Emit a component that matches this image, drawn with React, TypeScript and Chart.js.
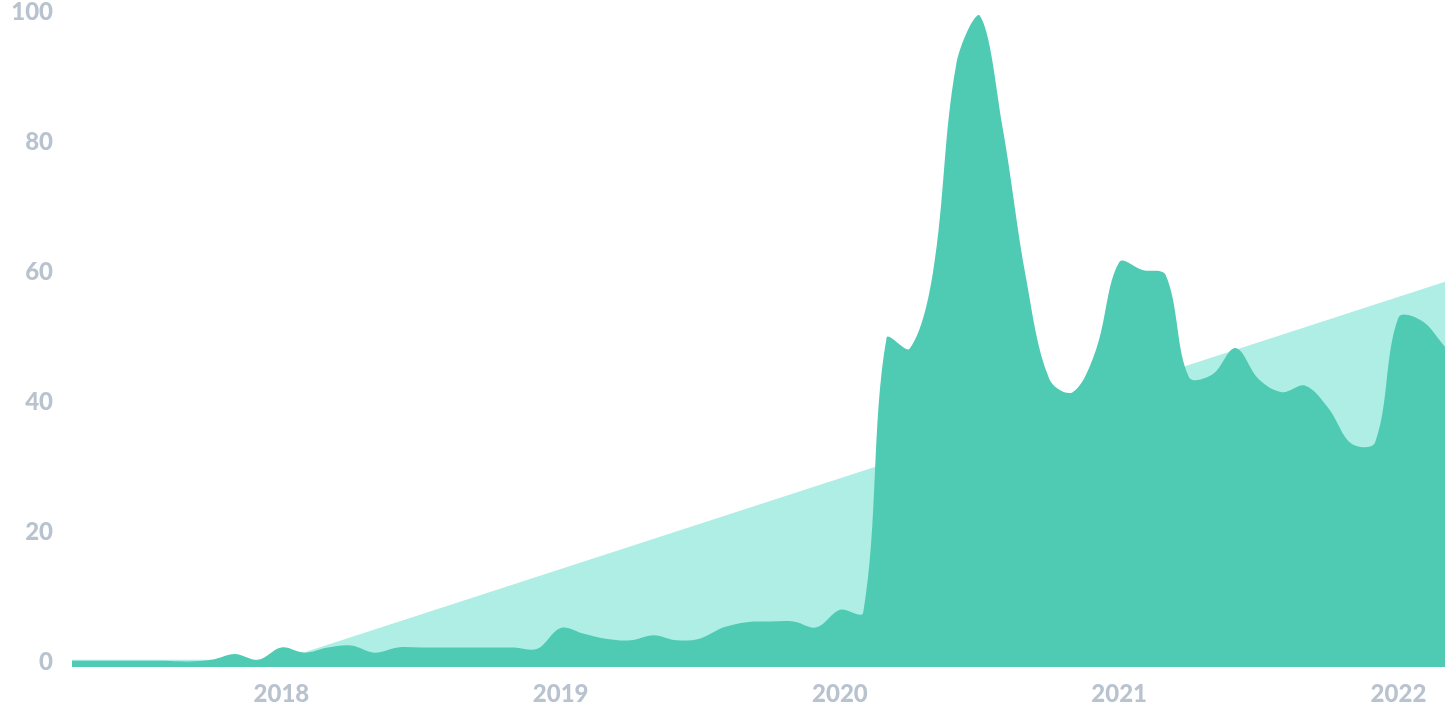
import React, { useEffect, useRef } from 'react';
import { Chart, registerables } from 'chart.js';

Chart.register(...registerables);

const months = [
  '2017-04', '2017-05', '2017-06', '2017-07', '2017-08', '2017-09', '2017-10', '2017-11', '2017-12',
  '2018-01', '2018-02', '2018-03', '2018-04', '2018-05', '2018-06', '2018-07', '2018-08', '2018-09', '2018-10', '2018-11', '2018-12',
  '2019-01', '2019-02', '2019-03', '2019-04', '2019-05', '2019-06', '2019-07', '2019-08', '2019-09', '2019-10', '2019-11', '2019-12',
  '2020-01', '2020-02', '2020-03', '2020-04', '2020-05', '2020-06', '2020-07', '2020-08', '2020-09', '2020-10', '2020-11', '2020-12',
  '2021-01', '2021-02', '2021-03', '2021-04', '2021-05', '2021-06', '2021-07', '2021-08', '2021-09', '2021-10', '2021-11', '2021-12',
  '2022-01', '2022-02', '2022-03',
];

const interestValues = [
  0.15, 0.15, 0.15, 0.15, 0.15, 0.05, 0.3, 1.2, 0.3,
  2.2, 1.4, 2.2, 2.5, 1.4, 2.2, 2.2, 2.2, 2.2, 2.2, 2.2, 2.0,
  5.2, 4.3, 3.5, 3.3, 4.1, 3.3, 3.6, 5.3, 6.1, 6.2, 6.2, 5.3,
  8.0, 7.6, 49.8, 48.2, 60, 92, 99.5, 82, 59, 43.5, 41.5, 48,
  61.5, 60.3, 59.5, 43.8, 44.2, 48.3, 43.5, 41.5, 42.5, 39, 33.5, 33.8,
  53, 52.5, 48.5,
];

const trendMonths = ['2017-04', '2018-01', '2022-03'];
const trendValues = [0.3, 0.3, 58.5];

const yTicks = [0, 20, 40, 60, 80, 100];

const LABEL_COLOR = '#B8C3CF';
const DARK = '#4FCBB4';
const LIGHT = '#AEEEE4';

export default function App() {
  const ref = useRef<HTMLCanvasElement | null>(null);

  useEffect(() => {
    if (!ref.current) return;
    const font = { family: 'Lato', size: 24, weight: '900' as any, lineHeight: 1 };
    const chart = new Chart(ref.current, {
      type: 'line',
      data: {
        labels: months,
        datasets: [
          {
            label: 'Interest',
            data: interestValues,
            borderWidth: 0,
            borderColor: DARK,
            backgroundColor: DARK,
            fill: 'start',
            pointRadius: 0,
            tension: 0.35,
          },
          {
            label: 'Trend',
            data: trendMonths.map((m, i) => ({ x: m, y: trendValues[i] })),
            borderWidth: 0,
            borderColor: LIGHT,
            backgroundColor: LIGHT,
            fill: 'start',
            pointRadius: 0,
            tension: 0,
          },
        ],
      },
      options: {
        animation: false,
        responsive: true,
        maintainAspectRatio: false,
        layout: { padding: { top: 0, right: 5, left: 0, bottom: 0 } },
        plugins: { legend: { display: false }, tooltip: { enabled: false } },
        scales: {
          x: {
            type: 'category',
            offset: false,
            grid: { display: false, drawTicks: false, tickLength: 0 },
            border: { display: false },
            ticks: {
              autoSkip: false,
              maxRotation: 0,
              padding: 15,
              color: LABEL_COLOR,
              font,
              callback: function (value: any) {
                const lab = months[value as number];
                return lab && lab.endsWith('-01') ? lab.slice(0, 4) : null;
              },
            },
            afterFit: (scale: any) => {
              scale.height = 58;
            },
          },
          y: {
            min: -0.8,
            max: 100,
            grid: { display: false, drawTicks: false, tickLength: 0 },
            border: { display: false },
            ticks: { padding: 19, color: LABEL_COLOR, font },
            afterBuildTicks: (scale: any) => {
              scale.ticks = yTicks.map((v) => ({ value: v }));
            },
            afterFit: (scale: any) => {
              scale.width = 72;
              scale.paddingTop = 12;
              scale.paddingBottom = 0;
            },
          },
        },
      },
    });
    return () => chart.destroy();
  }, []);

  return (
    <div style={{ position: 'absolute', left: 0, top: 0, width: 1450, height: 725 }}>
      <canvas ref={ref} />
    </div>
  );
}
